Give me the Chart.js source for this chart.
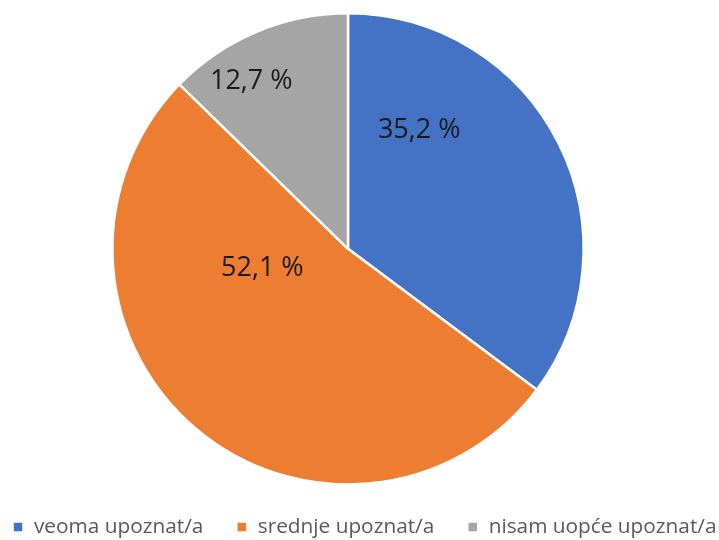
<!DOCTYPE html>
<html>
<head>
<meta charset="utf-8">
<script src="https://cdn.jsdelivr.net/npm/chart.js@4/dist/chart.umd.min.js"></script>
<style>
html,body{margin:0;padding:0;background:#fff;}
#wrap{width:719px;height:540px;}
</style>
</head>
<body>
<div id="wrap"><canvas id="c" width="719" height="540"></canvas></div>
<script>
const categories = ["veoma upoznat/a", "srednje upoznat/a", "nisam uopće upoznat/a"];
const values = [35.2, 52.1, 12.7];
const valueLabels = ["35,2 %", "52,1 %", "12,7 %"];
const colors = ["#4472C4", "#ED7D31", "#A5A5A5"];
// label placement: angle from top (deg, clockwise) and radial fraction
const labelAngles = [31, 257, 330];
const labelRadii = [0.587, 0.373, 0.821];

const shiftPlugin = {
  id: 'shift',
  afterLayout(chart) {
    const ca = chart.chartArea;
    ca.left -= 11.5; ca.right -= 11.5;
    if (chart.legend) {
      chart.legend.left += 5; chart.legend.right += 5;
      chart.legend.top -= 2; chart.legend.bottom -= 2;
    }
  }
};

const labelPlugin = {
  id: 'sliceLabels',
  afterDatasetsDraw(chart) {
    const ctx = chart.ctx;
    const meta = chart.getDatasetMeta(0);
    ctx.save();
    ctx.font = '27px "Open Sans", "Liberation Sans", sans-serif';
    ctx.fillStyle = '#1b1b1b';
    ctx.textAlign = 'center';
    ctx.textBaseline = 'middle';
    meta.data.forEach((arc, i) => {
      const a = labelAngles[i] * Math.PI / 180;
      const r = arc.outerRadius * labelRadii[i];
      ctx.fillText(valueLabels[i], arc.x + r * Math.sin(a), arc.y - r * Math.cos(a));
    });
    ctx.restore();
  }
};

new Chart(document.getElementById('c'), {
  type: 'pie',
  data: {
    labels: categories,
    datasets: [{
      data: values,
      backgroundColor: colors,
      borderColor: '#ffffff',
      borderWidth: 2.5
    }]
  },
  options: {
    responsive: false,
    animation: false,
    layout: { padding: { top: 12, left: -60, right: -60, bottom: -9.5 } },
    plugins: {
      tooltip: { enabled: false },
      legend: {
        position: 'bottom',
        labels: {
          boxWidth: 11,
          boxHeight: 11,
          padding: 33,
          color: '#595959',
          font: { family: '"Open Sans", "Liberation Sans", sans-serif', size: 20.8 }
        }
      }
    }
  },
  plugins: [shiftPlugin, labelPlugin]
});
</script>
</body>
</html>
